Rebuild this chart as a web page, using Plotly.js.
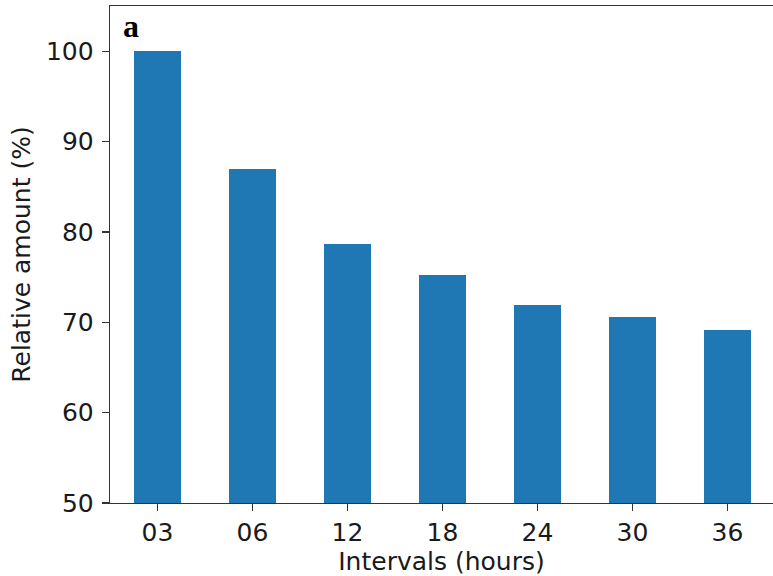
<!DOCTYPE html>
<html>
<head>
<meta charset="utf-8">
<script src="https://cdn.plot.ly/plotly-3.0.1.min.js"></script>
<style>
  html, body { margin: 0; padding: 0; background: #ffffff; }
  #chart { width: 773px; height: 576px; }
</style>
</head>
<body>
<div id="chart"></div>
<script>
// Sampling intervals (hours) and the relative amount at each interval (%)
const intervals = ["03", "06", "12", "18", "24", "30", "36"];
const relativeAmount = [100, 87.0, 78.7, 75.2, 71.9, 70.6, 69.1];
const yTicks = [50, 60, 70, 80, 90, 100];

const axisFont = { family: "DejaVu Sans, sans-serif", size: 25, color: "#1a1a1a" };

const trace = {
  type: "bar",
  x: intervals.map((_, i) => i),
  y: relativeAmount,
  width: 0.5,
  marker: { color: "#1f77b4", line: { width: 0 } },
  hoverinfo: "skip"
};

const layout = {
  width: 773,
  height: 576,
  margin: { l: 110, r: 0, t: 6, b: 73, pad: 0 },
  paper_bgcolor: "#ffffff",
  plot_bgcolor: "#ffffff",
  showlegend: false,
  bargap: 0,
  xaxis: {
    range: [-0.5, 6.479],
    tickmode: "array",
    tickvals: intervals.map((_, i) => i),
    ticktext: intervals,
    ticks: "outside",
    ticklen: 7,
    tickwidth: 1.3,
    tickcolor: "#333333",
    showline: true,
    linecolor: "#333333",
    linewidth: 1.3,
    mirror: true,
    showgrid: false,
    zeroline: false,
    tickfont: axisFont,
    title: { text: "Intervals (hours)", font: axisFont, standoff: 9 }
  },
  yaxis: {
    range: [50, 105],
    tickmode: "array",
    tickvals: yTicks,
    ticktext: yTicks.map(String),
    ticks: "outside",
    ticklen: 7,
    tickwidth: 1.3,
    tickcolor: "#333333",
    ticklabelstandoff: 3,
    showline: true,
    linecolor: "#333333",
    linewidth: 1.3,
    showgrid: false,
    zeroline: false,
    tickfont: axisFont,
    title: { text: "Relative amount (%)", font: axisFont, standoff: 8 }
  },
  annotations: [{
    text: "<b>a</b>",
    xref: "paper", yref: "paper",
    x: 0.016, y: 1.0,
    xanchor: "left", yanchor: "top",
    showarrow: false,
    font: { family: "Liberation Serif, Times New Roman, serif", size: 32, color: "#000000" }
  }]
};

Plotly.newPlot("chart", [trace], layout, { staticPlot: true, displayModeBar: false });
</script>
</body>
</html>
